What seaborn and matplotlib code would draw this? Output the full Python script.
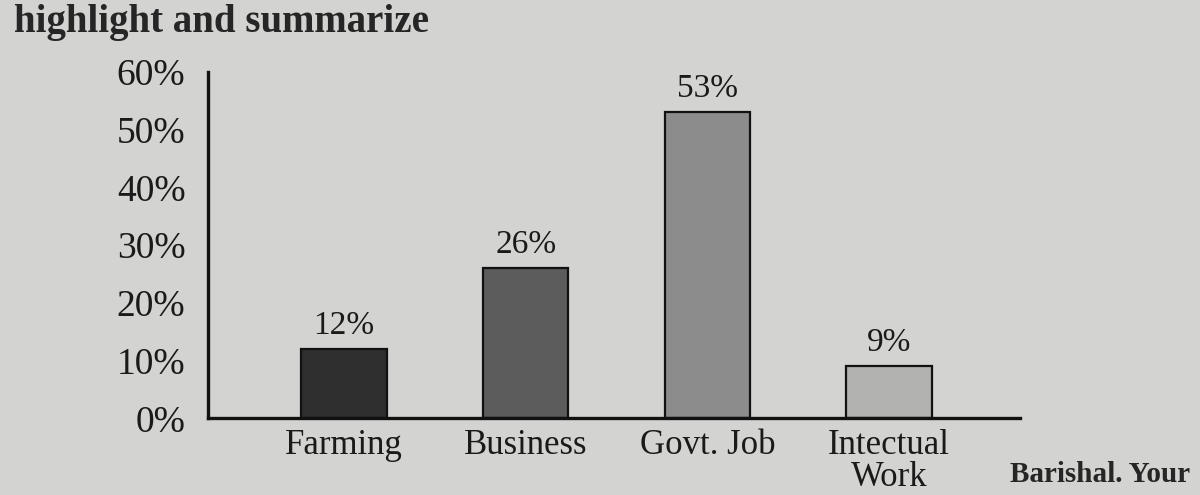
import matplotlib
matplotlib.use("Agg")
import matplotlib.pyplot as plt
import seaborn as sns
import pandas as pd

categories = ["Farming", "Business", "Govt. Job", "Intectual\nWork"]
shares = [12, 26, 53, 9]
value_labels = ["12%", "26%", "53%", "9%"]
bar_colors = ["#2f2f2f", "#5c5c5c", "#8c8c8c", "#b2b2b0"]
y_ticks = [0, 10, 20, 30, 40, 50, 60]
y_tick_labels = ["0%", "10%", "20%", "30%", "40%", "50%", "60%"]

paper = "#d3d3d1"

sns.set_style("white")
plt.rcParams["font.family"] = ["Liberation Serif", "DejaVu Serif"]

df = pd.DataFrame({"category": categories, "share": shares})

fig = plt.figure(figsize=(12, 4.95), dpi=100, facecolor=paper)
# axes: 0% line at ~y=418px, 60% at ~y=72px
ax = fig.add_axes([0.173, 0.155, 0.677, 0.70])
ax.set_facecolor(paper)

sns.barplot(data=df, x="category", y="share", hue="category",
            palette=bar_colors, legend=False, width=0.47,
            edgecolor="#111111", linewidth=1.6, ax=ax)

for container, lab in zip(ax.containers, value_labels):
    ax.bar_label(container, labels=[lab], padding=6, fontsize=24,
                 color="#1a1a1a")

ax.set_xlim(-0.75, 3.72)
ax.set_ylim(0, 60)
ax.set_yticks(y_ticks)
ax.set_yticklabels(y_tick_labels, fontsize=27, color="#1a1a1a")
ax.tick_params(axis="y", direction="in", length=9, width=2.2,
               color="#111111", pad=16)
ax.tick_params(axis="x", length=0, pad=8, labelsize=25,
               labelcolor="#1a1a1a")
for lbl in ax.get_xticklabels():
    lbl.set_linespacing(0.95)
ax.set_xlabel("")
ax.set_ylabel("")

sns.despine(ax=ax)
for side in ["left", "bottom"]:
    ax.spines[side].set_linewidth(2.4)
    ax.spines[side].set_color("#111111")

# bits of the surrounding page text
fig.text(0.012, 0.935, "highlight and summarize", fontsize=28,
         fontweight="bold", color="#262626", va="baseline")
fig.text(0.992, 0.015, "Barishal. Your", fontsize=21,
         fontweight="bold", color="#262626", ha="right", va="bottom")

fig.savefig("out.png", dpi=100, facecolor=paper)
